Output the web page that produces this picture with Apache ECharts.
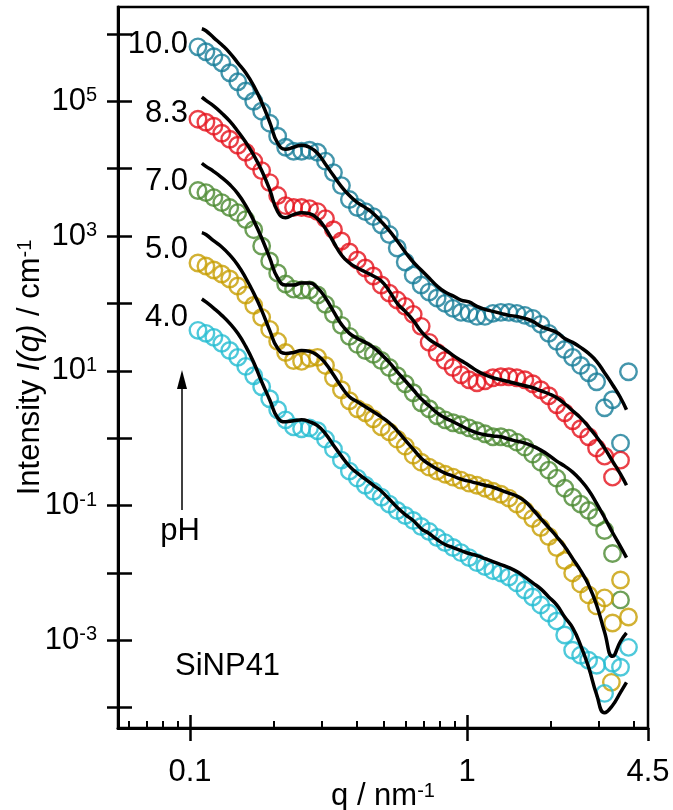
<!DOCTYPE html>
<html>
<head>
<meta charset="utf-8">
<script src="https://cdn.jsdelivr.net/npm/echarts@6/dist/echarts.min.js"></script>
<style>
  html, body { margin: 0; padding: 0; background: #fff; }
  #chart { width: 673px; height: 810px; }
</style>
</head>
<body>
<div id="chart"></div>
<script>
// q values of the measured points (nm^-1)
const qData = [0.1069, 0.1142, 0.1220, 0.1303, 0.1392, 0.1488, 0.1590, 0.1699, 0.1815, 0.1940,
  0.2073, 0.2215, 0.2366, 0.2529, 0.2702, 0.2887, 0.3085, 0.3296, 0.3522, 0.3763,
  0.4021, 0.4297, 0.4591, 0.4905, 0.5241, 0.5600, 0.5984, 0.6394, 0.6832, 0.7300,
  0.7800, 0.8334, 0.8905, 0.9515, 1.017, 1.086, 1.161, 1.240, 1.325, 1.416,
  1.513, 1.617, 1.727, 1.846, 1.972, 2.107, 2.252, 2.406, 2.571, 2.747,
  2.935, 3.136, 3.351, 3.581, 3.826]
// q values of the fit curves
const qFit = [0.1104, 0.1142, 0.1220, 0.1303, 0.1392, 0.1488, 0.1590, 0.1699, 0.1815, 0.1940,
  0.2073, 0.2215, 0.2366, 0.2529, 0.2702, 0.2887, 0.3085, 0.3296, 0.3522, 0.3763,
  0.4021, 0.4297, 0.4591, 0.4905, 0.5241, 0.5600, 0.5984, 0.6394, 0.6832, 0.7300,
  0.7800, 0.8334, 0.8905, 0.9515, 1.017, 1.086, 1.161, 1.240, 1.325, 1.416,
  1.513, 1.617, 1.727, 1.846, 1.972, 2.107, 2.252, 2.406, 2.571, 2.747,
  2.935, 3.136, 3.351, 3.581, 3.763]

// intensities (cm^-1), curves offset by the plot
const pH100 = [6.41e5, 5.41e5, 4.56e5, 3.71e5, 2.64e5, 1.94e5, 1.42e5, 1.00e5, 7.11e4, 4.72e4,
  3.02e4, 2.07e4, 1.81e4, 1.81e4, 1.87e4, 1.75e4, 1.29e4, 8.72e3, 5.59e3, 3.47e3,
  2.64e3, 2.30e3, 1.94e3, 1.47e3, 1.05e3, 664, 411, 264, 187, 147,
  120, 100, 84.3, 73.5, 71.1, 64.1, 64.1, 71.1, 73.5, 73.5,
  71.1, 66.4, 59.9, 48.8, 35.9, 27.3, 20.7, 15.8, 12.0, 9.34,
  6.87, 2.82, 3.71, 0.843, 9.66]
const pH83 = [5.41e4, 4.88e4, 4.26e4, 3.35e4, 2.73e4, 2.22e4, 1.75e4, 1.29e4, 9.34e3, 6.20e3,
  3.98e3, 2.82e3, 2.64e3, 2.64e3, 2.55e3, 2.30e3, 1.81e3, 1.24e3, 843, 579,
  440, 335, 255, 187, 142, 112, 90.3, 68.7, 45.6, 26.4,
  18.7, 14.2, 11.2, 8.72, 7.35, 6.64, 7.11, 7.87, 8.15, 8.15,
  7.87, 7.35, 6.41, 5.23, 4.26, 3.13, 2.38, 1.81, 1.38, 1.05,
  0.711, 0.541, 0.264, 0.472]
const pH70 = [4.72e3, 4.40e3, 3.71e3, 3.13e3, 2.64e3, 2.22e3, 1.75e3, 1.24e3, 711, 426,
  282, 194, 163, 158, 158, 133, 96.6, 68.7, 47.2, 32.4,
  24.6, 20.0, 17.5, 14.2, 11.2, 8.43, 6.41, 4.72, 3.35, 2.73,
  2.15, 1.87, 1.69, 1.58, 1.42, 1.29, 1.16, 1.05, 1.05, 1.00,
  0.872, 0.735, 0.579, 0.440, 0.335, 0.255, 0.181, 0.133, 0.105, 0.0843,
  0.0664, 0.0426, 0.0194, 0.00398]
const pH50 = [398, 359, 313, 273, 230, 181, 133, 93.4, 62.0, 41.1,
  27.3, 18.7, 14.2, 13.8, 15.3, 15.8, 12.0, 7.87, 5.23, 3.59,
  2.73, 2.38, 1.94, 1.47, 1.24, 0.966, 0.761, 0.559, 0.440, 0.371,
  0.324, 0.292, 0.264, 0.238, 0.215, 0.200, 0.181, 0.163, 0.147, 0.129,
  0.105, 0.0843, 0.0641, 0.0472, 0.0347, 0.0238, 0.0153, 0.0100, 0.00687, 0.00472,
  0.00324, 0.00426, 0.00181, 0.00787, 0.00222]
const pH50Extra = [[3.32, 2.38e-4]]
const pH40 = [39.8, 35.9, 31.3, 25.5, 20.0, 15.8, 11.6, 8.43, 5.79, 3.84,
  2.64, 1.87, 1.47, 1.38, 1.42, 1.29, 0.966, 0.687, 0.472, 0.324,
  0.255, 0.200, 0.163, 0.133, 0.105, 0.0843, 0.0711, 0.0599, 0.0488, 0.0411,
  0.0335, 0.0282, 0.0238, 0.0200, 0.0169, 0.0142, 0.0124, 0.0108, 0.0100, 0.00872,
  0.00711, 0.00559, 0.00440, 0.00335, 0.00255, 0.00194, 0.00120, 7.11e-4, 5.99e-4, 5.05e-4,
  4.26e-4, 1.63e-4, 4.56e-4, 3.98e-4, 7.87e-4]

// fits
const fit100 = [1.19e6, 1.11e6, 8.72e5, 6.87e5, 5.23e5, 3.71e5, 2.64e5, 1.69e5, 9.66e4, 4.88e4,
  2.38e4, 1.94e4, 2.07e4, 2.22e4, 2.07e4, 1.69e4, 1.16e4, 7.87e3, 5.41e3, 3.98e3,
  3.13e3, 2.64e3, 2.15e3, 1.63e3, 1.20e3, 843, 579, 411, 313, 238,
  181, 147, 129, 112, 105, 90.3, 81.5, 76.1, 71.1, 66.4,
  64.1, 59.9, 54.1, 45.6, 41.1, 37.1, 30.2, 26.4, 22.2, 18.1,
  13.8, 9.34, 6.20, 3.98, 2.64]
const fit83 = [1.15e5, 1.03e5, 8.43e4, 6.64e4, 5.05e4, 3.59e4, 2.46e4, 1.58e4, 9.34e3, 4.88e3,
  2.30e3, 1.87e3, 2.07e3, 2.22e3, 2.15e3, 1.81e3, 1.29e3, 815, 523, 398,
  335, 292, 255, 215, 153, 100, 76.1, 55.9, 38.4, 29.2,
  24.6, 20.7, 16.9, 14.2, 12.0, 10.0, 8.72, 7.87, 7.35, 6.87,
  6.41, 5.99, 5.59, 5.05, 4.56, 3.98, 3.24, 2.55, 2.00, 1.47,
  1.05, 0.711, 0.456, 0.292, 0.200]
const fit70 = [1.20e4, 1.08e4, 9.03e3, 7.35e3, 5.79e3, 4.26e3, 2.82e3, 1.69e3, 934, 472,
  238, 187, 187, 200, 200, 169, 120, 76.1, 48.8, 35.9,
  30.2, 26.4, 22.2, 17.5, 13.3, 9.66, 7.11, 5.23, 3.84, 3.02,
  2.38, 2.00, 1.75, 1.53, 1.33, 1.20, 1.12, 1.08, 1.05, 0.966,
  0.903, 0.843, 0.761, 0.664, 0.559, 0.456, 0.384, 0.313, 0.238, 0.169,
  0.108, 0.0664, 0.0398, 0.0246, 0.0169]
const fit50 = [1.12e3, 1.05e3, 843, 687, 523, 371, 238, 142, 78.7, 39.8,
  21.5, 18.1, 18.7, 20.0, 19.4, 16.9, 12.9, 8.72, 5.79, 4.11,
  3.47, 2.92, 2.46, 2.07, 1.69, 1.29, 0.934, 0.687, 0.505, 0.411,
  0.347, 0.302, 0.273, 0.246, 0.230, 0.215, 0.200, 0.187, 0.169, 0.153,
  0.138, 0.116, 0.0872, 0.0641, 0.0472, 0.0347, 0.0246, 0.0163, 0.0108, 0.00664,
  0.00335, 0.00133, 5.79e-4, 9.66e-4, 0.00129]
const fit40 = [116, 105, 84.3, 66.4, 50.5, 35.9, 23.0, 13.3, 6.87, 3.71,
  2.00, 1.75, 1.81, 1.87, 1.75, 1.53, 1.16, 0.787, 0.541, 0.384,
  0.302, 0.246, 0.200, 0.163, 0.124, 0.0934, 0.0735, 0.0599, 0.0456, 0.0384,
  0.0313, 0.0264, 0.0238, 0.0215, 0.0194, 0.0181, 0.0163, 0.0147, 0.0133, 0.0120,
  0.0105, 0.00872, 0.00711, 0.00579, 0.00440, 0.00335, 0.00222, 0.00153, 8.43e-4, 3.98e-4,
  1.58e-4, 8.43e-5, 1.08e-4, 1.69e-4, 2.38e-4]

const phNames = ['10.0', '8.3', '7.0', '5.0', '4.0']
const xMajorTicks = [0.1, 1, 4.5]
const xMinorTicks = [0.06, 0.07, 0.08, 0.09, 0.2, 0.3, 0.4, 0.5, 0.6, 0.7, 0.8, 0.9, 2, 3, 4]
const yTicks = [1e-4, 1e-3, 1e-2, 1e-1, 1, 10, 1e2, 1e3, 1e4, 1e5, 1e6]
const yLabelTicks = [1e-3, 1e-1, 10, 1e3, 1e5]

const FONT = '"Liberation Sans", Arial, sans-serif'
const colors = ['#157C97', '#E5101A', '#4A8830', '#C79E00', '#22BCD1']
const measured = [pH100, pH83, pH70, pH50, pH40]
const fits = [fit100, fit83, fit70, fit50, fit40]

const series = []
measured.forEach((arr, i) => {
  let pts = arr.map((v, k) => [qData[k], v])
  if (i === 3) pts = pts.concat(pH50Extra)
  series.push({
    type: 'scatter',
    name: 'pH ' + phNames[i],
    data: pts,
    symbol: 'circle',
    symbolSize: 16.5,
    silent: true,
    itemStyle: { color: 'rgba(0,0,0,0)', borderColor: colors[i], borderWidth: 2.4 },
    z: 2
  })
})
fits.forEach((arr, i) => {
  series.push({
    type: 'line',
    name: 'fit ' + phNames[i],
    data: arr.map((v, k) => [qFit[k], v]),
    showSymbol: false,
    symbol: 'none',
    smooth: 0.5,
    silent: true,
    lineStyle: { color: '#000', width: 3.5 },
    z: 3
  })
})

const xBase = { type: 'log', min: 0.055, max: 4.5, gridIndex: 0, position: 'bottom', splitLine: { show: false } }
const yBase = { type: 'log', min: 5e-5, max: 2.5e6, gridIndex: 0, position: 'left', splitLine: { show: false } }

const option = {
  animation: false,
  backgroundColor: '#fff',
  grid: {
    left: 118, right: 25, top: 7, bottom: 82,
    show: true, borderColor: '#000', borderWidth: 2.5,
    outerBoundsMode: 'none'
  },
  xAxis: [
    Object.assign({}, xBase, {
      name: 'q / nm{s|-1}',
      nameLocation: 'middle',
      nameGap: 53,
      nameMoveOverlap: false,
      nameTextStyle: {
        color: '#000', fontSize: 31, fontFamily: FONT,
        rich: { s: { fontSize: 20, fontFamily: FONT, verticalAlign: 'top', color: '#000' } }
      },
      axisLine: { show: true, lineStyle: { color: '#000', width: 3 } },
      axisTick: { show: true, inside: false, length: 13, customValues: xMajorTicks, lineStyle: { color: '#000', width: 2.5 } },
      axisLabel: {
        show: true, customValues: xMajorTicks, margin: 29,
        color: '#000', fontSize: 31, fontFamily: FONT,
        formatter: v => String(Number(v.toPrecision(2)))
      }
    }),
    Object.assign({}, xBase, {
      axisLine: { show: false },
      axisTick: { show: true, inside: true, length: 13, customValues: [0.1, 1], lineStyle: { color: '#000', width: 2.5 } },
      axisLabel: { show: false }
    }),
    Object.assign({}, xBase, {
      axisLine: { show: false },
      axisTick: { show: true, inside: true, length: 7, customValues: xMinorTicks, lineStyle: { color: '#000', width: 2 } },
      axisLabel: { show: false }
    })
  ],
  yAxis: [
    Object.assign({}, yBase, {
      name: '{a|Intensity }{i|I(q)}{a| / cm}{s|-1}',
      nameLocation: 'middle',
      nameRotate: 90,
      nameGap: 72,
      nameMoveOverlap: false,
      nameTextStyle: {
        color: '#000',
        rich: {
          a: { fontSize: 31, fontFamily: FONT, color: '#000' },
          i: { fontSize: 31, fontFamily: FONT, fontStyle: 'italic', color: '#000' },
          s: { fontSize: 20, fontFamily: FONT, verticalAlign: 'top', color: '#000' }
        }
      },
      axisLine: { show: true, lineStyle: { color: '#000', width: 3 } },
      axisTick: { show: true, inside: false, length: 11, customValues: yTicks, lineStyle: { color: '#000', width: 2.5 } },
      axisLabel: {
        show: true, customValues: yLabelTicks, margin: 21,
        formatter: v => '{m|10}{s|' + Math.round(Math.log10(v)) + '}',
        rich: {
          m: { fontSize: 31, fontFamily: FONT, color: '#000' },
          s: { fontSize: 20, fontFamily: FONT, verticalAlign: 'top', color: '#000' }
        }
      }
    }),
    Object.assign({}, yBase, {
      axisLine: { show: false },
      axisTick: { show: true, inside: true, length: 14, customValues: yTicks, lineStyle: { color: '#000', width: 2.5 } },
      axisLabel: { show: false }
    })
  ],
  series: series,
  graphic: [
    ...phNames.map((t, i) => ({
      type: 'text', x: 188, y: [44, 113, 181, 249, 317][i], z: 10,
      style: { text: t, fontSize: 31, fontFamily: FONT, fill: '#000', align: 'right', verticalAlign: 'middle' }
    })),
    { type: 'line', z: 10, shape: { x1: 182, y1: 386, x2: 182, y2: 510 }, style: { stroke: '#000', lineWidth: 1.5 } },
    { type: 'polygon', z: 10, shape: { points: [[182, 370], [177, 389], [187, 389]] }, style: { fill: '#000' } },
    { type: 'text', x: 180, y: 531, z: 10,
      style: { text: 'pH', fontSize: 31, fontFamily: FONT, fill: '#000', align: 'center', verticalAlign: 'middle' } },
    { type: 'text', x: 175, y: 666, z: 10,
      style: { text: 'SiNP41', fontSize: 31, fontFamily: FONT, fill: '#000', align: 'left', verticalAlign: 'middle' } }
  ]
}

const myChart = echarts.init(document.getElementById('chart'))
myChart.setOption(option)
</script>
</body>
</html>
